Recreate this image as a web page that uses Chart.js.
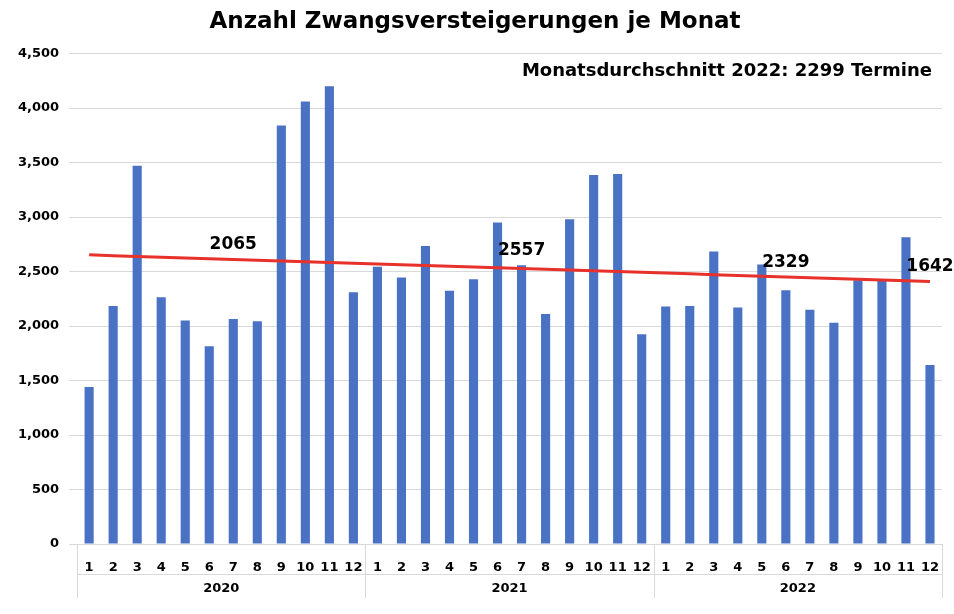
<!DOCTYPE html>
<html>
<head>
<meta charset="utf-8">
<script src="https://cdn.jsdelivr.net/npm/chart.js@4/dist/chart.umd.min.js"></script>
<style>
  html, body { margin: 0; padding: 0; background: #fff; }
</style>
</head>
<body>
<canvas id="c" width="954" height="614"></canvas>
<script>
const months = ['1','2','3','4','5','6','7','8','9','10','11','12'];
const years = ['2020', '2021', '2022'];
const values2020 = [1440, 2185, 3470, 2265, 2050, 1815, 2065, 2045, 3840, 4060, 4200, 2310];
const values2021 = [2545, 2445, 2735, 2325, 2430, 2950, 2557, 2110, 2980, 3385, 3395, 1925];
const values2022 = [2180, 2185, 2685, 2170, 2565, 2329, 2150, 2030, 2420, 2420, 2815, 1642];
const labelledIdx = [6, 18, 29, 35]; // bars with a value label

const values = [...values2020, ...values2021, ...values2022];
const labels = years.flatMap(() => months);

// linear trendline like Excel's
const n = values.length;
const mx = (n - 1) / 2;
const my = values.reduce((a, b) => a + b, 0) / n;
let sxy = 0, sxx = 0;
values.forEach((v, i) => { sxy += (i - mx) * (v - my); sxx += (i - mx) ** 2; });
const slope = sxy / sxx;
const trend = values.map((v, i) => my + slope * (i - mx));

const FONT = 'Verdana, "DejaVu Sans", sans-serif';

const extras = {
  id: 'extras',
  afterDraw(chart) {
    const { ctx, chartArea: a, scales: { x, y } } = chart;
    ctx.save();
    // value labels
    ctx.font = 'bold 17px ' + FONT;
    ctx.fillStyle = '#000';
    ctx.textAlign = 'center';
    ctx.textBaseline = 'bottom';
    labelledIdx.forEach(i => {
      const top = Math.min(y.getPixelForValue(values[i]), y.getPixelForValue(trend[i]));
      ctx.fillText(String(values[i]), x.getPixelForValue(i), top - 6);
    });
    // annotation
    ctx.textAlign = 'right';
    ctx.textBaseline = 'middle';
    ctx.font = 'bold 18px ' + FONT;
    ctx.fillText('Monatsdurchschnitt 2022: 2299 Termine', a.right - 10, a.top + 18);
    // year grouping box
    const step = x.getPixelForValue(1) - x.getPixelForValue(0);
    ctx.strokeStyle = '#d9d9d9';
    ctx.lineWidth = 1;
    ctx.font = 'bold 13px ' + FONT;
    ctx.textAlign = 'center';
    for (let g = 0; g <= years.length; g++) {
      const px = Math.round(x.getPixelForValue(g * 12) - step / 2) + 0.5;
      ctx.beginPath();
      ctx.moveTo(px, a.bottom);
      ctx.lineTo(px, a.bottom + 54);
      ctx.stroke();
    }
    years.forEach((yr, g) => {
      const cx = (x.getPixelForValue(g * 12) + x.getPixelForValue(g * 12 + 11)) / 2;
      ctx.fillText(yr, cx, a.bottom + 45);
    });
    ctx.beginPath();
    ctx.moveTo(a.left, a.bottom + 30.5);
    ctx.lineTo(a.right, a.bottom + 30.5);
    ctx.stroke();
    ctx.restore();
  }
};

new Chart(document.getElementById('c'), {
  data: {
    labels,
    datasets: [
      {
        type: 'line',
        data: trend,
        borderColor: '#e8312a',
        borderWidth: 3,
        pointRadius: 0,
        order: 0
      },
      {
        type: 'bar',
        data: values,
        backgroundColor: '#4a72c4',
        categoryPercentage: 1,
        barPercentage: 0.38,
        order: 1
      }
    ]
  },
  options: {
    responsive: false,
    animation: false,
    devicePixelRatio: 1,
    layout: { padding: { left: 8, right: 12, top: 0, bottom: 8 } },
    plugins: {
      legend: { display: false },
      tooltip: { enabled: false },
      title: {
        display: true,
        text: 'Anzahl Zwangsversteigerungen je Monat',
        color: '#000',
        font: { family: FONT, size: 23, weight: 'bold' },
        padding: { top: 8, bottom: 18 }
      }
    },
    scales: {
      x: {
        grid: { display: false },
        border: { color: '#d9d9d9' },
        ticks: { color: '#000', font: { family: FONT, size: 13, weight: 'bold' }, maxRotation: 0, autoSkip: false, padding: 8 },
        afterFit(s) { s.height = 62; }
      },
      y: {
        min: 0, max: 4500,
        ticks: { stepSize: 500, color: '#000', font: { family: FONT, size: 13, weight: 'bold' }, padding: 10 },
        grid: { color: '#d9d9d9' },
        border: { display: false }
      }
    }
  },
  plugins: [extras]
});
</script>
</body>
</html>
